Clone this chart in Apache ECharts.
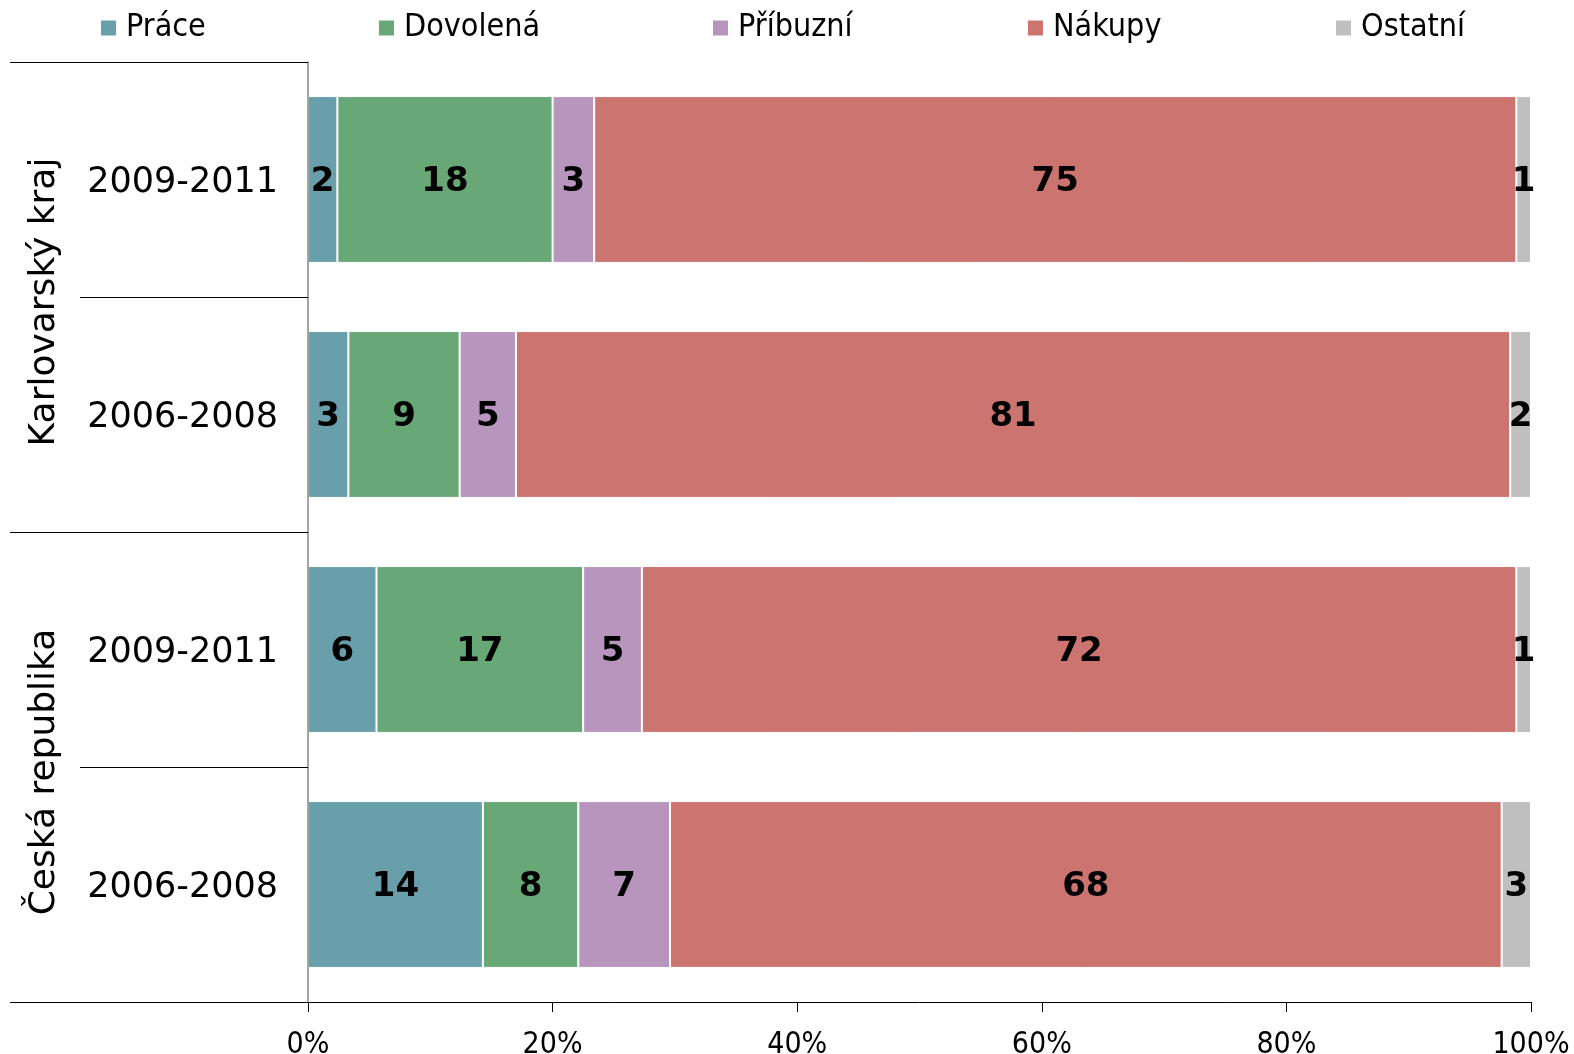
<!DOCTYPE html>
<html>
<head>
<meta charset="utf-8">
<script src="https://cdn.jsdelivr.net/npm/echarts@6/dist/echarts.min.js"></script>
<style>
html,body{margin:0;padding:0;background:#fff;}
#chart{width:1574px;height:1054px;}
</style>
</head>
<body>
<div id="chart"></div>
<script>
// ---- data ----
const groups = ['Karlovarský kraj', 'Česká republika'];
const categories = ['Karlovarský kraj|2009-2011', 'Karlovarský kraj|2006-2008', 'Česká republika|2009-2011', 'Česká republika|2006-2008'];
const seriesNames = ['Práce', 'Dovolená', 'Příbuzní', 'Nákupy', 'Ostatní'];
const prace    = [2.4, 3.3, 5.6, 14.3];
const dovolena = [17.6, 9.1, 16.9, 7.8];
const pribuzni = [3.4, 4.6, 4.8, 7.5];
const nakupy   = [75.4, 81.3, 71.5, 68.0];
const ostatni  = [1.2, 1.7, 1.2, 2.4];
const praceLbl    = [2, 3, 6, 14];
const dovolenaLbl = [18, 9, 17, 8];
const pribuzniLbl = [3, 5, 5, 7];
const nakupyLbl   = [75, 81, 72, 68];
const ostatniLbl  = [1, 2, 1, 3];
const xTicks = [0, 20, 40, 60, 80, 100];

// ---- styles ----
const colors = ['#699EAB', '#68A776', '#B895BD', '#CC7470', '#BFBFBF'];
const values = [prace, dovolena, pribuzni, nakupy, ostatni];
const labels = [praceLbl, dovolenaLbl, pribuzniLbl, nakupyLbl, ostatniLbl];
const legendLeft = [99, 377, 711, 1026, 1334];

const chart = echarts.init(document.getElementById('chart'), null, {renderer: 'canvas'});

const series = seriesNames.map((name, i) => ({
  name: name,
  type: 'bar',
  stack: 'total',
  barWidth: '71%',
  xAxisIndex: 0,
  yAxisIndex: 0,
  z: 2,
  itemStyle: {color: colors[i], borderColor: '#ffffff', borderWidth: 1},
  label: {
    show: true,
    position: 'inside',
    offset: [0, 3],
    color: '#000',
    fontFamily: 'DejaVu Sans',
    fontWeight: 'bold',
    fontSize: 34,
    formatter: p => String(labels[i][p.dataIndex])
  },
  emphasis: {disabled: true},
  data: values[i]
}));

const legends = seriesNames.map((name, i) => ({
  data: [name],
  left: legendLeft[i],
  top: 12,
  padding: 0,
  icon: 'rect',
  itemWidth: 17,
  itemHeight: 17,
  selectedMode: false,
  textStyle: {fontFamily: 'DejaVu Sans Condensed', fontSize: 32, color: '#000', padding: [0, 0, 0, 4]}
}));

chart.setOption({
  animation: false,
  backgroundColor: '#fff',
  legend: legends,
  grid: {left: 308, right: 43, top: 62, bottom: 52, containLabel: false, outerBoundsMode: 'none'},
  xAxis: {
    type: 'value',
    min: 0, max: 100, interval: 20,
    z: 5,
    axisLine: {show: true, lineStyle: {color: '#000', width: 1}},
    axisTick: {show: true, length: 10, lineStyle: {color: '#000', width: 1}},
    minorTick: {show: false},
    splitLine: {show: false},
    axisLabel: {
      margin: 28,
      fontFamily: 'DejaVu Sans Condensed', fontSize: 30, color: '#000',
      formatter: v => xTicks.indexOf(v) >= 0 ? v + '%' : ''
    }
  },
  yAxis: [
    {
      type: 'category',
      data: categories,
      inverse: true,
      position: 'left',
      z: 5,
      axisLine: {show: true, lineStyle: {color: '#868686', width: 1.5}},
      axisTick: {show: true, length: 228, alignWithLabel: false, lineStyle: {color: '#000', width: 1}},
      axisLabel: {
        interval: 0, margin: 30,
        fontFamily: 'DejaVu Sans', fontSize: 35, color: '#000',
        formatter: v => '{p|' + v.split('|')[1] + '}',
        rich: {p: {fontFamily: 'DejaVu Sans', fontSize: 35, color: '#000', padding: [7, 0, 0, 0]}}
      },
      splitLine: {show: false}
    },
    {
      type: 'category',
      data: groups,
      inverse: true,
      position: 'left',
      z: 5,
      axisLine: {show: false},
      axisTick: {show: true, length: 298, lineStyle: {color: '#000', width: 1}},
      axisLabel: {
        interval: 0, rotate: 90, margin: 243, padding: [0, 10, 0, 0],
        fontFamily: 'DejaVu Sans', fontSize: 36, color: '#000', lineHeight: 40
      },
      splitLine: {show: false}
    }
  ],
  series: series
});
</script>
</body>
</html>
